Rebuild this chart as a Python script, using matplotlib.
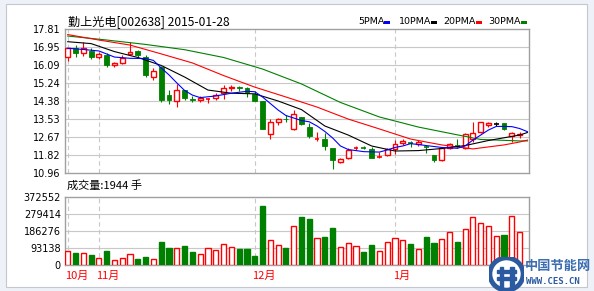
import matplotlib
matplotlib.use('Agg')
import matplotlib.pyplot as plt
from matplotlib.patches import Rectangle, Circle
import matplotlib.transforms as mtransforms

plt.rcParams['font.family'] = ['DejaVu Sans', 'Noto Sans CJK SC']
cjk = ['Noto Sans CJK SC', 'DejaVu Sans']

# daily candles (last day 2015-01-28)
opens = [16.48, 16.91, 16.67, 16.79, 16.48, 16.59, 16.11, 16.19, 16.64, 16.78,
         16.51, 15.53, 16.03, 14.68, 14.40, 14.92, 14.50, 14.45, 14.48, 14.56,
         14.76, 15.02, 15.08, 15.00, 14.72, 14.40, 12.81, 13.39, 13.56, 13.05,
         13.62, 13.15, 12.58, 12.58, 12.16, 11.51, 11.70, 12.17, 12.20, 12.10,
         11.74, 11.82, 12.10, 12.39, 12.44, 12.35, 12.22, 11.83, 11.59, 12.15,
         12.27, 12.15, 12.58, 12.94, 13.26, 13.32, 13.34, 12.73, 12.76]
closes = [16.91, 16.70, 16.93, 16.48, 16.62, 16.11, 16.19, 16.43, 16.73, 16.59,
          15.64, 15.83, 14.45, 14.45, 14.92, 14.56, 14.45, 14.56, 14.50, 14.68,
          15.00, 15.05, 15.00, 14.76, 14.40, 13.07, 13.42, 13.53, 13.53, 13.77,
          13.29, 12.75, 12.60, 12.26, 11.61, 11.62, 12.07, 12.20, 12.17, 11.70,
          11.76, 12.10, 12.34, 12.51, 12.41, 12.46, 12.20, 11.59, 12.15, 12.34,
          12.25, 12.81, 12.89, 13.39, 13.37, 13.32, 13.05, 12.89, 12.81]
highs = [16.92, 17.06, 17.22, 16.93, 16.74, 16.67, 16.27, 16.59, 17.22, 16.83,
         16.59, 15.98, 16.07, 14.92, 15.19, 14.92, 14.64, 14.64, 14.56, 14.76,
         15.16, 15.16, 15.12, 15.08, 14.88, 14.40, 13.53, 13.61, 13.72, 13.97,
         13.64, 13.34, 12.94, 12.86, 12.16, 11.70, 12.15, 12.26, 12.26, 12.23,
         11.99, 12.18, 12.54, 12.61, 12.51, 12.54, 12.30, 11.83, 12.20, 12.39,
         12.58, 12.89, 13.42, 13.42, 13.42, 13.39, 13.37, 12.94, 12.94]
lows = [16.30, 16.51, 16.54, 16.40, 16.40, 16.00, 16.03, 16.15, 16.59, 16.51,
        15.53, 15.40, 14.34, 14.26, 14.13, 14.45, 14.36, 14.36, 14.31, 14.45,
        14.50, 14.88, 14.88, 14.60, 14.40, 13.07, 12.59, 13.25, 13.39, 13.00,
        13.27, 12.62, 12.51, 12.07, 11.18, 11.44, 11.64, 12.07, 12.12, 11.67,
        11.67, 11.78, 11.86, 12.30, 12.22, 12.25, 11.94, 11.50, 11.56, 12.10,
        12.15, 12.10, 12.46, 12.89, 13.15, 13.22, 13.00, 12.46, 12.62]
volumes = [77080, 66070, 66070, 55060, 38540, 77080, 27530, 36700, 58730, 33030,
           44050, 31200, 126630, 93600, 91760, 104610, 71570, 58730, 91760, 82590,
           113780, 97270, 88090, 88090, 49550, 324840, 135810, 108280, 93600, 212890,
           264270, 253260, 146820, 154160, 203710, 97270, 119290, 102770, 71570, 110110,
           77080, 126630, 146820, 135810, 115620, 88090, 154160, 121120, 141310, 181690,
           126630, 196370, 262430, 231240, 212890, 157830, 165170, 267940, 181690]
vol_up = [1, 0, 1, 0, 1, 0, 1, 1, 1, 0, 0, 1, 0, 0, 1, 0, 0, 1, 1, 1,
          1, 1, 0, 0, 0, 0, 1, 1, 0, 1, 0, 0, 1, 0, 0, 1, 1, 1, 0, 0,
          1, 1, 1, 1, 0, 1, 0, 0, 1, 1, 0, 1, 1, 1, 1, 1, 0, 1, 1]

# moving averages read at sample days
ma5_idx = [0, 2, 4, 6, 8, 10, 11, 12, 13, 14, 15, 16, 17, 19, 21, 23, 24, 25, 26, 27,
           28, 30, 31, 32, 33, 34, 35, 36, 38, 40, 41, 42, 43, 44, 45, 46, 48, 50, 51, 52,
           53, 54, 55, 56, 57, 58, 59]
ma5_val = [16.91, 16.85, 16.78, 16.49, 16.43, 16.42, 16.33, 15.97, 15.64, 15.26,
           14.90, 14.68, 14.56, 14.64, 14.77, 14.86, 14.84, 14.59, 14.28, 13.97,
           13.71, 13.47, 13.41, 13.21, 12.95, 12.64, 12.26, 12.09, 11.99, 11.97,
           12.07, 12.19, 12.26, 12.37, 12.33, 12.28, 12.19, 12.15, 12.26, 12.54,
           12.78, 13.02, 13.19, 13.19, 13.18, 13.09, 12.94]
ma10_idx = [0, 3, 6, 9, 12, 15, 18, 21, 24, 27, 30, 33, 36, 39, 42, 45, 48, 51, 54, 58, 59]
ma10_val = [17.22, 17.13, 16.75, 16.47, 16.09, 15.54, 14.92, 14.77, 14.74, 14.40,
            13.99, 13.21, 12.78, 12.26, 12.02, 12.04, 12.14, 12.28, 12.52, 12.78, 12.90]
ma20_idx = [0, 4, 8, 12, 16, 20, 24, 28, 32, 36, 40, 44, 48, 52, 56, 58, 59]
ma20_val = [17.56, 17.30, 17.06, 16.64, 16.21, 15.61, 15.06, 14.59, 14.11, 13.54,
            13.07, 12.59, 12.31, 12.12, 12.31, 12.45, 12.54]
ma30_idx = [0, 5, 10, 15, 20, 25, 30, 35, 40, 45, 50, 53, 58, 59]
ma30_val = [17.49, 17.30, 17.09, 16.84, 16.47, 15.92, 15.21, 14.33, 13.64, 13.16,
            12.79, 12.57, 12.50, 12.50]

price_ticks = [10.96, 11.82, 12.67, 13.53, 14.38, 15.24, 16.09, 16.95, 17.81]
vol_ticks = [0, 93138, 186276, 279414, 372552]
month_idx = [0, 4, 24, 42]
month_labels = ['10月', '11月', '12月', '1月']

RED = '#ff0000'
GREEN = '#008000'
GRID = '#c8c8c8'
FRAME = '#a0a0a0'

W, H = 594, 291
def fx(p):
    return p / W
def fy(p):
    return 1 - p / H

fig = plt.figure(figsize=(W / 100, H / 100), dpi=100, facecolor='#eef2f8')
fig.patches.append(Rectangle((fx(6), fy(287)), fx(587) - fx(6), 283 / H,
                             transform=fig.transFigure, facecolor='white',
                             edgecolor='#c3c8d0', lw=0.8, zorder=-1))

ax = fig.add_axes([fx(65), fy(173.3), fx(529) - fx(65), 144 / H])
axv = fig.add_axes([fx(65), fy(265), fx(529) - fx(65), 67.7 / H])

for a in (ax, axv):
    a.set_xlim(-0.35, 59.2)
    for s in a.spines.values():
        s.set_color(FRAME)
        s.set_linewidth(1)
    a.tick_params(length=0, pad=3, labelsize=7, colors='black')
    a.set_xticks([])
    for m in month_idx:
        a.axvline(m, color=GRID, lw=0.8, ls=(0, (4, 3)), zorder=0)

# price panel
ax.set_ylim(price_ticks[0], price_ticks[-1])
ax.set_yticks(price_ticks)
ax.set_yticklabels(['%.2f' % v for v in price_ticks])
for v in price_ticks[1:-1]:
    ax.axhline(v, color=GRID, lw=0.8, zorder=0)

bw = 0.62
for i in range(len(opens)):
    o, c, h, l = opens[i], closes[i], highs[i], lows[i]
    lo, hi = min(o, c), max(o, c)
    if c > o:
        col = RED
    elif c < o:
        col = GREEN
    else:
        col = 'black'
    if hi - lo < 0.03:
        ax.vlines(i, l, h, color=col, lw=0.8, zorder=3)
        ax.hlines((lo + hi) / 2, i - bw / 2, i + bw / 2, color=col, lw=1.2, zorder=3)
    elif col == RED:
        ax.vlines(i, hi, h, color=col, lw=0.8, zorder=3)
        ax.vlines(i, l, lo, color=col, lw=0.8, zorder=3)
        ax.add_patch(Rectangle((i - bw / 2, lo), bw, hi - lo, facecolor='white',
                               edgecolor=col, lw=1, zorder=3))
    else:
        ax.vlines(i, l, h, color=col, lw=0.8, zorder=3)
        ax.add_patch(Rectangle((i - bw / 2, lo), bw, hi - lo, facecolor=col,
                               edgecolor=col, lw=0.6, zorder=3))

ax.plot(ma30_idx, ma30_val, color=GREEN, lw=0.8, zorder=4)
ax.plot(ma20_idx, ma20_val, color=RED, lw=0.8, zorder=4)
ax.plot(ma10_idx, ma10_val, color='black', lw=0.8, zorder=4)
ax.plot(ma5_idx, ma5_val, color='#0000ff', lw=0.8, zorder=4)

# volume panel
axv.set_ylim(0, vol_ticks[-1])
axv.set_yticks(vol_ticks)
axv.set_yticklabels([str(v) for v in vol_ticks])
for v in vol_ticks[1:-1]:
    axv.axhline(v, color=GRID, lw=0.8, zorder=0)
xs = list(range(len(volumes)))
axv.bar(xs, volumes, width=0.66,
        color=['white' if u else GREEN for u in vol_up],
        edgecolor=[RED if u else GREEN for u in vol_up], lw=1, zorder=3)

trans = mtransforms.blended_transform_factory(axv.transData, axv.transAxes)
for m, lab in zip(month_idx, month_labels):
    axv.text(m - 0.3, -0.16, lab, transform=trans, color=RED, fontsize=8,
             ha='left', va='center', family=cjk)

# titles and legend
fig.text(fx(68), fy(21.5), '勤上光电[002638] 2015-01-28', fontsize=8.7,
         va='center', family=cjk)
fig.text(fx(67), fy(185), '成交量:1944 手', fontsize=8, va='center', family=cjk)

legend = [('5PMA', 358, 384, '#0000ff'), ('10PMA', 399, 431, 'black'),
          ('20PMA', 443, 476, RED), ('30PMA', 488, 521, GREEN)]
for lab, tx, bx, col in legend:
    fig.text(fx(tx), fy(22), lab, fontsize=6.8, va='center')
    fig.patches.append(Rectangle((fx(bx), fy(23.5)), 6 / W, 3 / H,
                                 transform=fig.transFigure, facecolor=col,
                                 edgecolor='none'))

# watermark logo
logo = fig.add_axes([fx(489), fy(291), 35 / W, 34 / H])
logo.set_xlim(-1, 1)
logo.set_ylim(-1, 1)
logo.axis('off')
logo.add_patch(Circle((0, 0), 0.95, facecolor='white', edgecolor='#2c5aa0', lw=3.5))
logo.add_patch(Rectangle((-0.55, 0.05), 1.1, 0.18, color='#2c5aa0'))
logo.add_patch(Rectangle((-0.55, -0.35), 1.1, 0.18, color='#2c5aa0'))
logo.add_patch(Rectangle((-0.4, -0.8), 0.18, 1.2, color='#2c5aa0'))
logo.add_patch(Rectangle((0.22, -0.8), 0.18, 1.2, color='#2c5aa0'))
fig.text(fx(525), fy(266), '中国节能网', fontsize=9.5, color='#3b6db3',
         va='center', family=cjk, weight='bold')
fig.text(fx(526), fy(281), 'WWW.CES.CN', fontsize=6.5, color='#2c5aa0',
         va='center', family='DejaVu Sans Mono', weight='bold')

fig.savefig('out.png', dpi=100, facecolor=fig.get_facecolor())
